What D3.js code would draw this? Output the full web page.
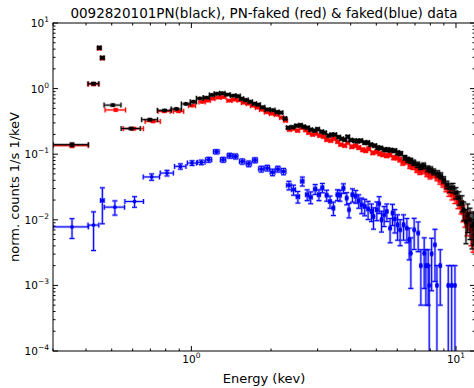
<!DOCTYPE html>
<html>
<head>
<meta charset="utf-8">
<script src="https://cdn.jsdelivr.net/npm/d3@7"></script>
<style>
body { margin: 0; background: #fff; }
text { font-family: "DejaVu Sans", sans-serif; fill: #000; }
</style>
</head>
<body>
<div id="chart"></div>
<script>
// energy (keV) bin centres, half widths, counts and count errors for each data set

// 0092820101PN (black)
var eBlack = [0.354, 0.427, 0.449, 0.461, 0.505, 0.592, 0.697, 0.792, 0.878, 0.954,
    1.018, 1.077, 1.14, 1.195, 1.25, 1.31, 1.37, 1.44, 1.50, 1.55,
    1.61, 1.67, 1.73, 1.79, 1.86, 1.94, 2.03, 2.11, 2.18, 2.26,
    2.32, 2.414, 2.499, 2.586, 2.656, 2.749, 2.824, 2.924, 3.001, 3.108,
    3.189, 3.303, 3.391, 3.481, 3.605, 3.700, 3.799, 3.899, 4.002, 4.144,
    4.253, 4.366, 4.521, 4.640, 4.763, 4.934, 5.062, 5.196, 5.384, 5.522,
    5.668, 5.875, 6.024, 6.183, 6.410, 6.571, 6.745, 6.923, 7.168, 7.358,
    7.553, 7.820, 8.027, 8.239, 8.530, 8.756, 8.988, 9.246, 9.491, 9.742,
    10.0, 10.26, 10.54, 10.70, 10.91, 11.08, 11.30, 11.50, 11.67];
var dEBlack = [0.054, 0.020, 0.006, 0.0065, 0.037, 0.049, 0.048, 0.048, 0.039, 0.037,
    0.027, 0.032, 0.03, 0.025, 0.03, 0.03, 0.03, 0.035, 0.03, 0.025,
    0.03, 0.03, 0.03, 0.03, 0.035, 0.04, 0.04, 0.035, 0.035, 0.03,
    0.03, 0.034, 0.035, 0.036, 0.037, 0.038, 0.04, 0.041, 0.042, 0.043,
    0.045, 0.046, 0.047, 0.049, 0.05, 0.052, 0.053, 0.055, 0.056, 0.058,
    0.06, 0.061, 0.063, 0.065, 0.067, 0.069, 0.071, 0.073, 0.075, 0.077,
    0.079, 0.082, 0.084, 0.087, 0.09, 0.092, 0.094, 0.097, 0.1, 0.103,
    0.106, 0.109, 0.112, 0.115, 0.119, 0.123, 0.126, 0.129, 0.133, 0.136,
    0.14, 0.144, 0.12, 0.09, 0.09, 0.09, 0.09, 0.09, 0.09];
var cBlack = [0.140, 1.19, 4.2, 2.95, 0.56, 0.246, 0.336, 0.466, 0.49, 0.584,
    0.63, 0.71, 0.73, 0.80, 0.835, 0.85, 0.81, 0.78, 0.77, 0.70,
    0.67, 0.63, 0.59, 0.57, 0.52, 0.48, 0.47, 0.44, 0.43, 0.35,
    0.254, 0.258, 0.272, 0.277, 0.263, 0.254, 0.237, 0.229, 0.241, 0.221,
    0.213, 0.192, 0.199, 0.199, 0.182, 0.172, 0.166, 0.185, 0.164, 0.161,
    0.158, 0.161, 0.150, 0.150, 0.140, 0.135, 0.126, 0.124, 0.117, 0.117,
    0.115, 0.113, 0.105, 0.102, 0.0885, 0.0824, 0.0796, 0.0741, 0.0691, 0.0644,
    0.0667, 0.0601, 0.0580, 0.0540, 0.0504, 0.0470, 0.0408, 0.0342, 0.0308, 0.0308,
    0.0258, 0.0217, 0.0182, 0.0142, 0.00932, 0.0119, 0.0100, 0.0081, 0.0087];
var dcBlack = [0.008, 0.05, 0.15, 0.12, 0.02, 0.01, 0.012, 0.015, 0.015, 0.018,
    0.019, 0.021, 0.022, 0.024, 0.025, 0.026, 0.024, 0.023, 0.023, 0.021,
    0.02, 0.019, 0.018, 0.017, 0.016, 0.015, 0.014, 0.013, 0.013, 0.011,
    0.01, 0.01, 0.011, 0.011, 0.011, 0.01, 0.01, 0.009, 0.01, 0.009,
    0.009, 0.008, 0.008, 0.008, 0.008, 0.007, 0.007, 0.008, 0.007, 0.008,
    0.008, 0.008, 0.008, 0.008, 0.007, 0.007, 0.007, 0.007, 0.007, 0.007,
    0.007, 0.007, 0.007, 0.007, 0.007, 0.007, 0.007, 0.007, 0.0065, 0.006,
    0.0065, 0.006, 0.006, 0.0055, 0.0055, 0.005, 0.0045, 0.0045, 0.0045, 0.005,
    0.005, 0.005, 0.005, 0.0045, 0.005, 0.0055, 0.005, 0.0045, 0.0045];

// PN-faked (red)
var eRed = [0.354, 0.427, 0.449, 0.461, 0.518, 0.606, 0.716, 0.79, 0.895, 1.006, 1.098, 1.15,
    1.201, 1.266, 1.322, 1.393, 1.455, 1.520, 1.574, 1.644, 1.703, 1.778,
    1.842, 1.923, 2.009, 2.099, 2.193, 2.270, 2.350, 2.433, 2.521, 2.610,
    2.703, 2.775, 2.873, 2.950, 3.054, 3.162, 3.246, 3.362, 3.451, 3.573,
    3.667, 3.799, 3.899, 4.037, 4.181, 4.291, 4.444, 4.561, 4.682, 4.849,
    5.022, 5.153, 5.290, 5.478, 5.623, 5.818, 5.976, 6.136, 6.299, 6.523,
    6.696, 6.873, 7.117, 7.305, 7.499, 7.766, 7.970, 8.181, 8.472, 8.697,
    8.929, 9.165, 9.408, 9.656, 9.912, 10.18, 10.44, 10.63, 10.82, 11.01,
    11.20, 11.40, 11.60];
var dERed = [0.054, 0.020, 0.006, 0.0065, 0.046, 0.053, 0.047, 0.042, 0.04, 0.03, 0.03, 0.028,
    0.025, 0.028, 0.028, 0.03, 0.03, 0.03, 0.028, 0.03, 0.03, 0.03,
    0.03, 0.035, 0.035, 0.035, 0.035, 0.032, 0.033, 0.034, 0.036, 0.037,
    0.036, 0.037, 0.04, 0.04, 0.043, 0.045, 0.045, 0.047, 0.047, 0.05,
    0.05, 0.053, 0.054, 0.057, 0.058, 0.06, 0.062, 0.063, 0.065, 0.068,
    0.07, 0.072, 0.074, 0.076, 0.078, 0.081, 0.083, 0.085, 0.088, 0.091,
    0.093, 0.096, 0.099, 0.102, 0.104, 0.108, 0.111, 0.114, 0.118, 0.121,
    0.124, 0.127, 0.131, 0.134, 0.138, 0.14, 0.12, 0.1, 0.1, 0.1,
    0.1, 0.1, 0.1];
var cRed = [0.135, 1.17, 4.1, 2.9, 0.473, 0.245, 0.316, 0.45, 0.45, 0.55, 0.627, 0.656,
    0.703, 0.729, 0.742, 0.656, 0.679, 0.667, 0.611, 0.590, 0.550, 0.513,
    0.478, 0.438, 0.415, 0.401, 0.361, 0.325, 0.237, 0.245, 0.229, 0.254,
    0.233, 0.213, 0.199, 0.206, 0.192, 0.185, 0.166, 0.161, 0.172, 0.155,
    0.140, 0.135, 0.150, 0.130, 0.135, 0.126, 0.117, 0.113, 0.121, 0.105,
    0.109, 0.102, 0.0983, 0.0949, 0.0983, 0.0885, 0.0885, 0.0824, 0.0741, 0.0768,
    0.0667, 0.0644, 0.0580, 0.0540, 0.0560, 0.0504, 0.0470, 0.0486, 0.0438, 0.0394,
    0.0355, 0.0308, 0.0268, 0.0241, 0.0217, 0.0188, 0.0158, 0.0128, 0.0107, 0.00869,
    0.0100, 0.00703, 0.00570];
var dcRed = [0.008, 0.05, 0.15, 0.12, 0.018, 0.01, 0.012, 0.014, 0.014, 0.017, 0.019, 0.02,
    0.021, 0.022, 0.022, 0.02, 0.02, 0.02, 0.018, 0.018, 0.017, 0.015,
    0.014, 0.013, 0.012, 0.012, 0.011, 0.01, 0.01, 0.01, 0.009, 0.01,
    0.009, 0.009, 0.008, 0.008, 0.008, 0.007, 0.007, 0.007, 0.007, 0.007,
    0.006, 0.006, 0.006, 0.007, 0.007, 0.007, 0.007, 0.006, 0.007, 0.006,
    0.006, 0.006, 0.006, 0.006, 0.006, 0.006, 0.006, 0.006, 0.006, 0.006,
    0.006, 0.006, 0.0055, 0.005, 0.0055, 0.005, 0.005, 0.005, 0.0045, 0.0045,
    0.004, 0.004, 0.004, 0.004, 0.004, 0.004, 0.0035, 0.0035, 0.003, 0.003,
    0.003, 0.003, 0.0025];

// faked (blue)
var eBlue = [0.354, 0.427, 0.461, 0.514, 0.61, 0.708, 0.809, 0.909, 1.006, 1.091,
    1.163, 1.243, 1.318, 1.397, 1.468, 1.556, 1.648, 1.740, 1.837, 1.935,
    2.027, 2.123, 2.231, 2.337, 2.434, 2.527, 2.626, 2.739, 2.824, 2.937,
    3.035, 3.126, 3.246, 3.342, 3.441, 3.564, 3.645, 3.755, 3.864, 3.943,
    4.062, 4.181, 4.291, 4.405, 4.521, 4.655, 4.793, 4.878, 5.022, 5.124,
    5.232, 5.351, 5.478, 5.637, 5.756, 5.875, 6.016, 6.152, 6.338, 6.523,
    6.655, 6.753, 6.950, 7.196, 7.367, 7.583, 7.697, 7.852, 7.923, 8.091,
    8.329, 8.472, 8.721, 9.351, 9.632, 9.912];
var dEBlue = [0.054, 0.020, 0.007, 0.045, 0.049, 0.05, 0.046, 0.045, 0.04, 0.035,
    0.03, 0.03, 0.03, 0.03, 0.03, 0.035, 0.035, 0.035, 0.04, 0.04,
    0.04, 0.04, 0.045, 0.045, 0.04, 0.035, 0.035, 0.035, 0.035, 0.035,
    0.035, 0.035, 0.035, 0.035, 0.035, 0.035, 0.035, 0.04, 0.035, 0.03,
    0.04, 0.04, 0.04, 0.045, 0.045, 0.045, 0.04, 0.035, 0.045, 0.04,
    0.04, 0.045, 0.045, 0.045, 0.045, 0.045, 0.05, 0.05, 0.055, 0.05,
    0.04, 0.04, 0.05, 0.06, 0.05, 0.05, 0.04, 0.04, 0.04, 0.05,
    0.06, 0.05, 0.06, 0.06, 0.06, 0.06];
var cBlue = [0.0078, 0.0083, 0.0197, 0.0156, 0.019, 0.045, 0.0516, 0.0652, 0.0734, 0.0752,
    0.0824, 0.109, 0.0824, 0.0949, 0.0925, 0.0776, 0.0716, 0.081, 0.0594, 0.0615,
    0.0531, 0.0594, 0.0546, 0.0336, 0.0287, 0.0225, 0.0387, 0.0241, 0.0221, 0.0294,
    0.0241, 0.0308, 0.0237, 0.019, 0.0151, 0.0241, 0.0237, 0.0303, 0.0214, 0.0142,
    0.0241, 0.0229, 0.0195, 0.0169, 0.016, 0.0146, 0.0134, 0.0112, 0.0142, 0.0175,
    0.01, 0.0119, 0.0134, 0.00746, 0.0127, 0.0103, 0.00839, 0.00703, 0.00839, 0.00746,
    0.00495, 0.0031, 0.00703, 0.00627, 0.002, 0.0031, 0.002, 0.002, 0.001, 0.00303,
    0.00415, 0.001, 0.002, 0.001, 0.001, 0.001];
var dcBlue = [0.0026, 0.0049, 0.011, 0.0038, 0.0035, 0.005, 0.005, 0.006, 0.006, 0.006,
    0.007, 0.008, 0.007, 0.008, 0.008, 0.007, 0.007, 0.007, 0.006, 0.006,
    0.006, 0.006, 0.006, 0.005, 0.005, 0.0045, 0.006, 0.0045, 0.0045, 0.005,
    0.0045, 0.005, 0.0045, 0.004, 0.0035, 0.0045, 0.0045, 0.005, 0.0045, 0.0035,
    0.0055, 0.005, 0.0045, 0.0045, 0.0045, 0.0045, 0.004, 0.004, 0.0045, 0.005,
    0.0035, 0.004, 0.004, 0.003, 0.0045, 0.004, 0.0035, 0.003, 0.0035, 0.003,
    0.0025, 0.0022, 0.0035, 0.003, 0.0015, 0.0022, 0.0015, 0.0015, 0.001, 0.0022,
    0.003, 0.001, 0.0015, 0.001, 0.001, 0.001];

// axis ticks
var xMajor = [1, 10];
var xMajorExp = ["0", "1"];
var yMajor = [1e-4, 1e-3, 1e-2, 1e-1, 1, 10];
var yMajorExp = ["\u22124", "\u22123", "\u22122", "\u22121", "0", "1"];


var W = 474, H = 388;
var margin = {top: 23, left: 53},
    width = 422,
    height = 328;

var root = d3.select("#chart")
    .append("svg")
    .attr("width", W)
    .attr("height", H)
    .style("background", "#fff");

var svg = root.append("g")
    .attr("transform", "translate(" + margin.left + "," + margin.top + ")");

var x = d3.scaleLog().domain([0.3, 11.8]).range([0, width]);
var y = d3.scaleLog().domain([1e-4, 10]).range([height, 0]);

svg.append("clipPath").attr("id", "clip")
    .append("rect").attr("width", width).attr("height", height);


//error bars with caps, drawn for one data set
function drawSeries(e, de, c, dc, color) {
    var pts = e.map(function(d, i) { return {e: d, de: de[i], c: c[i], dc: dc[i]}; });
    var g = svg.append("g").attr("clip-path", "url(#clip)");

    function barPath(d) {
        var cx = x(d.e), cy = y(d.c);
        var x0 = x(d.e - d.de), x1 = x(d.e + d.de);
        var y0 = y(d.c + d.dc);
        var y1 = (d.c - d.dc) > 0 ? y(d.c - d.dc) : height + 10;
        var cap = 2.5;
        return "M" + x0 + "," + cy + "H" + x1 +
            "M" + cx + "," + y0 + "V" + y1 +
            "M" + (cx - cap) + "," + y0 + "H" + (cx + cap) +
            "M" + (cx - cap) + "," + y1 + "H" + (cx + cap) +
            "M" + x0 + "," + (cy - cap) + "V" + (cy + cap) +
            "M" + x1 + "," + (cy - cap) + "V" + (cy + cap);
    }

    //soft halo round each bar
    g.selectAll("path.halo")
        .data(pts)
        .enter()
        .append("path")
        .attr("class", "halo")
        .attr("d", barPath)
        .attr("fill", "none")
        .attr("stroke", color)
        .attr("stroke-opacity", 0.3)
        .attr("stroke-width", 2.6);

    g.selectAll("path.bar")
        .data(pts)
        .enter()
        .append("path")
        .attr("class", "bar")
        .attr("d", barPath)
        .attr("fill", "none")
        .attr("stroke", color)
        .attr("stroke-width", 1);

    g.selectAll("circle")
        .data(pts)
        .enter()
        .append("circle")
        .attr("cx", function(d) { return x(d.e); })
        .attr("cy", function(d) { return y(d.c); })
        .attr("r", 1.9)
        .attr("fill", color);
}

drawSeries(eRed, dERed, cRed, dcRed, "#ff0000");
drawSeries(eBlack, dEBlack, cBlack, dcBlack, "#000000");
drawSeries(eBlue, dEBlue, cBlue, dcBlue, "#0000ff");


//ticks on all four sides, pointing inwards
var xMinor = [];
[0.1, 1, 10].forEach(function(dec) {
    for (var k = 2; k <= 9; k++) {
        var v = dec * k;
        if (v > 0.3 && v < 11.8) xMinor.push(v);
    }
});
var yMinor = [];
yMajor.slice(0, -1).forEach(function(dec) {
    for (var k = 2; k <= 9; k++) yMinor.push(dec * k);
});

var ticks = svg.append("g").attr("stroke", "#000").attr("stroke-width", 1);

function tickSet(vals, len) {
    vals.forEach(function(v) {
        var px = x(v);
        ticks.append("line").attr("x1", px).attr("x2", px).attr("y1", height).attr("y2", height - len);
        ticks.append("line").attr("x1", px).attr("x2", px).attr("y1", 0).attr("y2", len);
    });
}
function tickSetY(vals, len) {
    vals.forEach(function(v) {
        var py = y(v);
        ticks.append("line").attr("x1", 0).attr("x2", len).attr("y1", py).attr("y2", py);
        ticks.append("line").attr("x1", width).attr("x2", width - len).attr("y1", py).attr("y2", py);
    });
}
tickSet(xMajor, 5);
tickSet(xMinor, 2.5);
tickSetY(yMajor, 5);
tickSetY(yMinor, 2.5);

//frame
svg.append("rect")
    .attr("x", 0).attr("y", 0)
    .attr("width", width).attr("height", height)
    .attr("fill", "none")
    .attr("stroke", "#000")
    .attr("stroke-width", 1);


//tick labels as 10 with superscript
xMajor.forEach(function(v, i) {
    var t = svg.append("text")
        .attr("x", x(v))
        .attr("y", height + 12)
        .attr("text-anchor", "middle")
        .style("font-size", "10.5px");
    t.append("tspan").text("10");
    t.append("tspan").attr("dy", -5).style("font-size", "7.5px").text(xMajorExp[i]);
});

yMajor.forEach(function(v, i) {
    var t = svg.append("text")
        .attr("x", -4)
        .attr("y", y(v) + 4)
        .attr("text-anchor", "end")
        .style("font-size", "10.5px");
    t.append("tspan").text("10");
    t.append("tspan").attr("dy", -5).style("font-size", "7.5px").text(yMajorExp[i]);
});


//title and axis labels
root.append("text")
    .attr("x", margin.left + width / 2)
    .attr("y", 18)
    .attr("text-anchor", "middle")
    .style("font-size", "13.5px")
    .text("0092820101PN(black), PN-faked (red) & faked(blue) data");

root.append("text")
    .attr("x", margin.left + width / 2)
    .attr("y", 383)
    .attr("text-anchor", "middle")
    .style("font-size", "13px")
    .text("Energy (kev)");

root.append("text")
    .attr("transform", "translate(19," + (margin.top + height / 2) + ") rotate(-90)")
    .attr("text-anchor", "middle")
    .style("font-size", "13px")
    .text("norm. counts 1/s 1/keV");
</script>
</body>
</html>
